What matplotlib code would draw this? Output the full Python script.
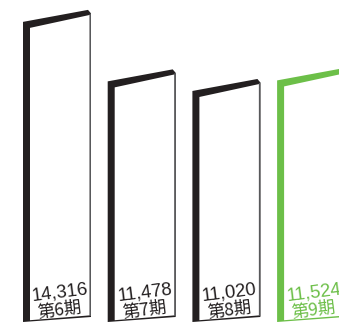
import matplotlib
matplotlib.use("Agg")
import matplotlib.pyplot as plt
from matplotlib.patches import Polygon

# data
periods = ["第6期", "第7期", "第8期", "第9期"]
values = [14316, 11478, 11020, 11524]
value_labels = ["14,316", "11,478", "11,020", "11,524"]

DARK = "#231f20"
EDGE = "#58595b"
GREEN = "#6cbf48"

W, H = 339, 325
PITCH = 84.7      # px between bars
VAL_PER_PX = 47.7  # value units per px
LEFT_PX = 60       # px of first bar text centre


def px_x(dx):
    return dx / PITCH


def px_y(dy):
    return dy * VAL_PER_PX


def draw_bar(ax, i, v, color, dark_right=True):
    x0 = i - px_x(37)
    yt = v
    # outer shape: side + top faces
    outer = [
        (x0, 0),
        (x0, yt),
        (x0 + px_x(65), yt + px_y(12)),
        (x0 + px_x(68), yt + px_y(8.5)),
        (x0 + px_x(68), px_y(5)),
    ]
    ax.add_patch(Polygon(outer, closed=True, facecolor=color, edgecolor="none"))
    if dark_right:
        # thin grey right edge
        ax.add_patch(Polygon([
            (x0 + px_x(66.5), px_y(6)),
            (x0 + px_x(68), px_y(6)),
            (x0 + px_x(68), yt + px_y(8.5)),
            (x0 + px_x(66.5), yt + px_y(8)),
        ], closed=True, facecolor=EDGE, edgecolor="none"))
    r = 66.5 if dark_right else 70
    front = [
        (x0 + px_x(7), px_y(1.8)),
        (x0 + px_x(r), px_y(6.6)),
        (x0 + px_x(r), yt + px_y(-6 + 13 * (r - 7) / 60)),
        (x0 + px_x(7), yt - px_y(6)),
    ]
    ax.add_patch(Polygon(front, closed=True, facecolor="white", edgecolor="none"))


fig = plt.figure(figsize=(W / 100, H / 100), dpi=100)
ax = fig.add_axes([0, 0, 1, 1])
ax.set_xlim(-LEFT_PX / PITCH, (W - LEFT_PX) / PITCH)
ax.set_ylim(-px_y(3), px_y(H - 3))
ax.axis("off")

for i, (p, v, lab) in enumerate(zip(periods, values, value_labels)):
    last = i == len(values) - 1
    color = GREEN if last else DARK
    draw_bar(ax, i, v, color, dark_right=not last)
    ax.text(i, px_y(29.5), lab, ha="center", va="center", rotation=7,
            rotation_mode="anchor", fontsize=13.3, color=color,
            family=["Liberation Sans", "DejaVu Sans"])
    ax.text(i, px_y(11.5), p, ha="center", va="center", rotation=7,
            rotation_mode="anchor", fontsize=12.5, color=color,
            family=["Noto Sans CJK JP", "DejaVu Sans"])

fig.savefig("out.png", dpi=100)
